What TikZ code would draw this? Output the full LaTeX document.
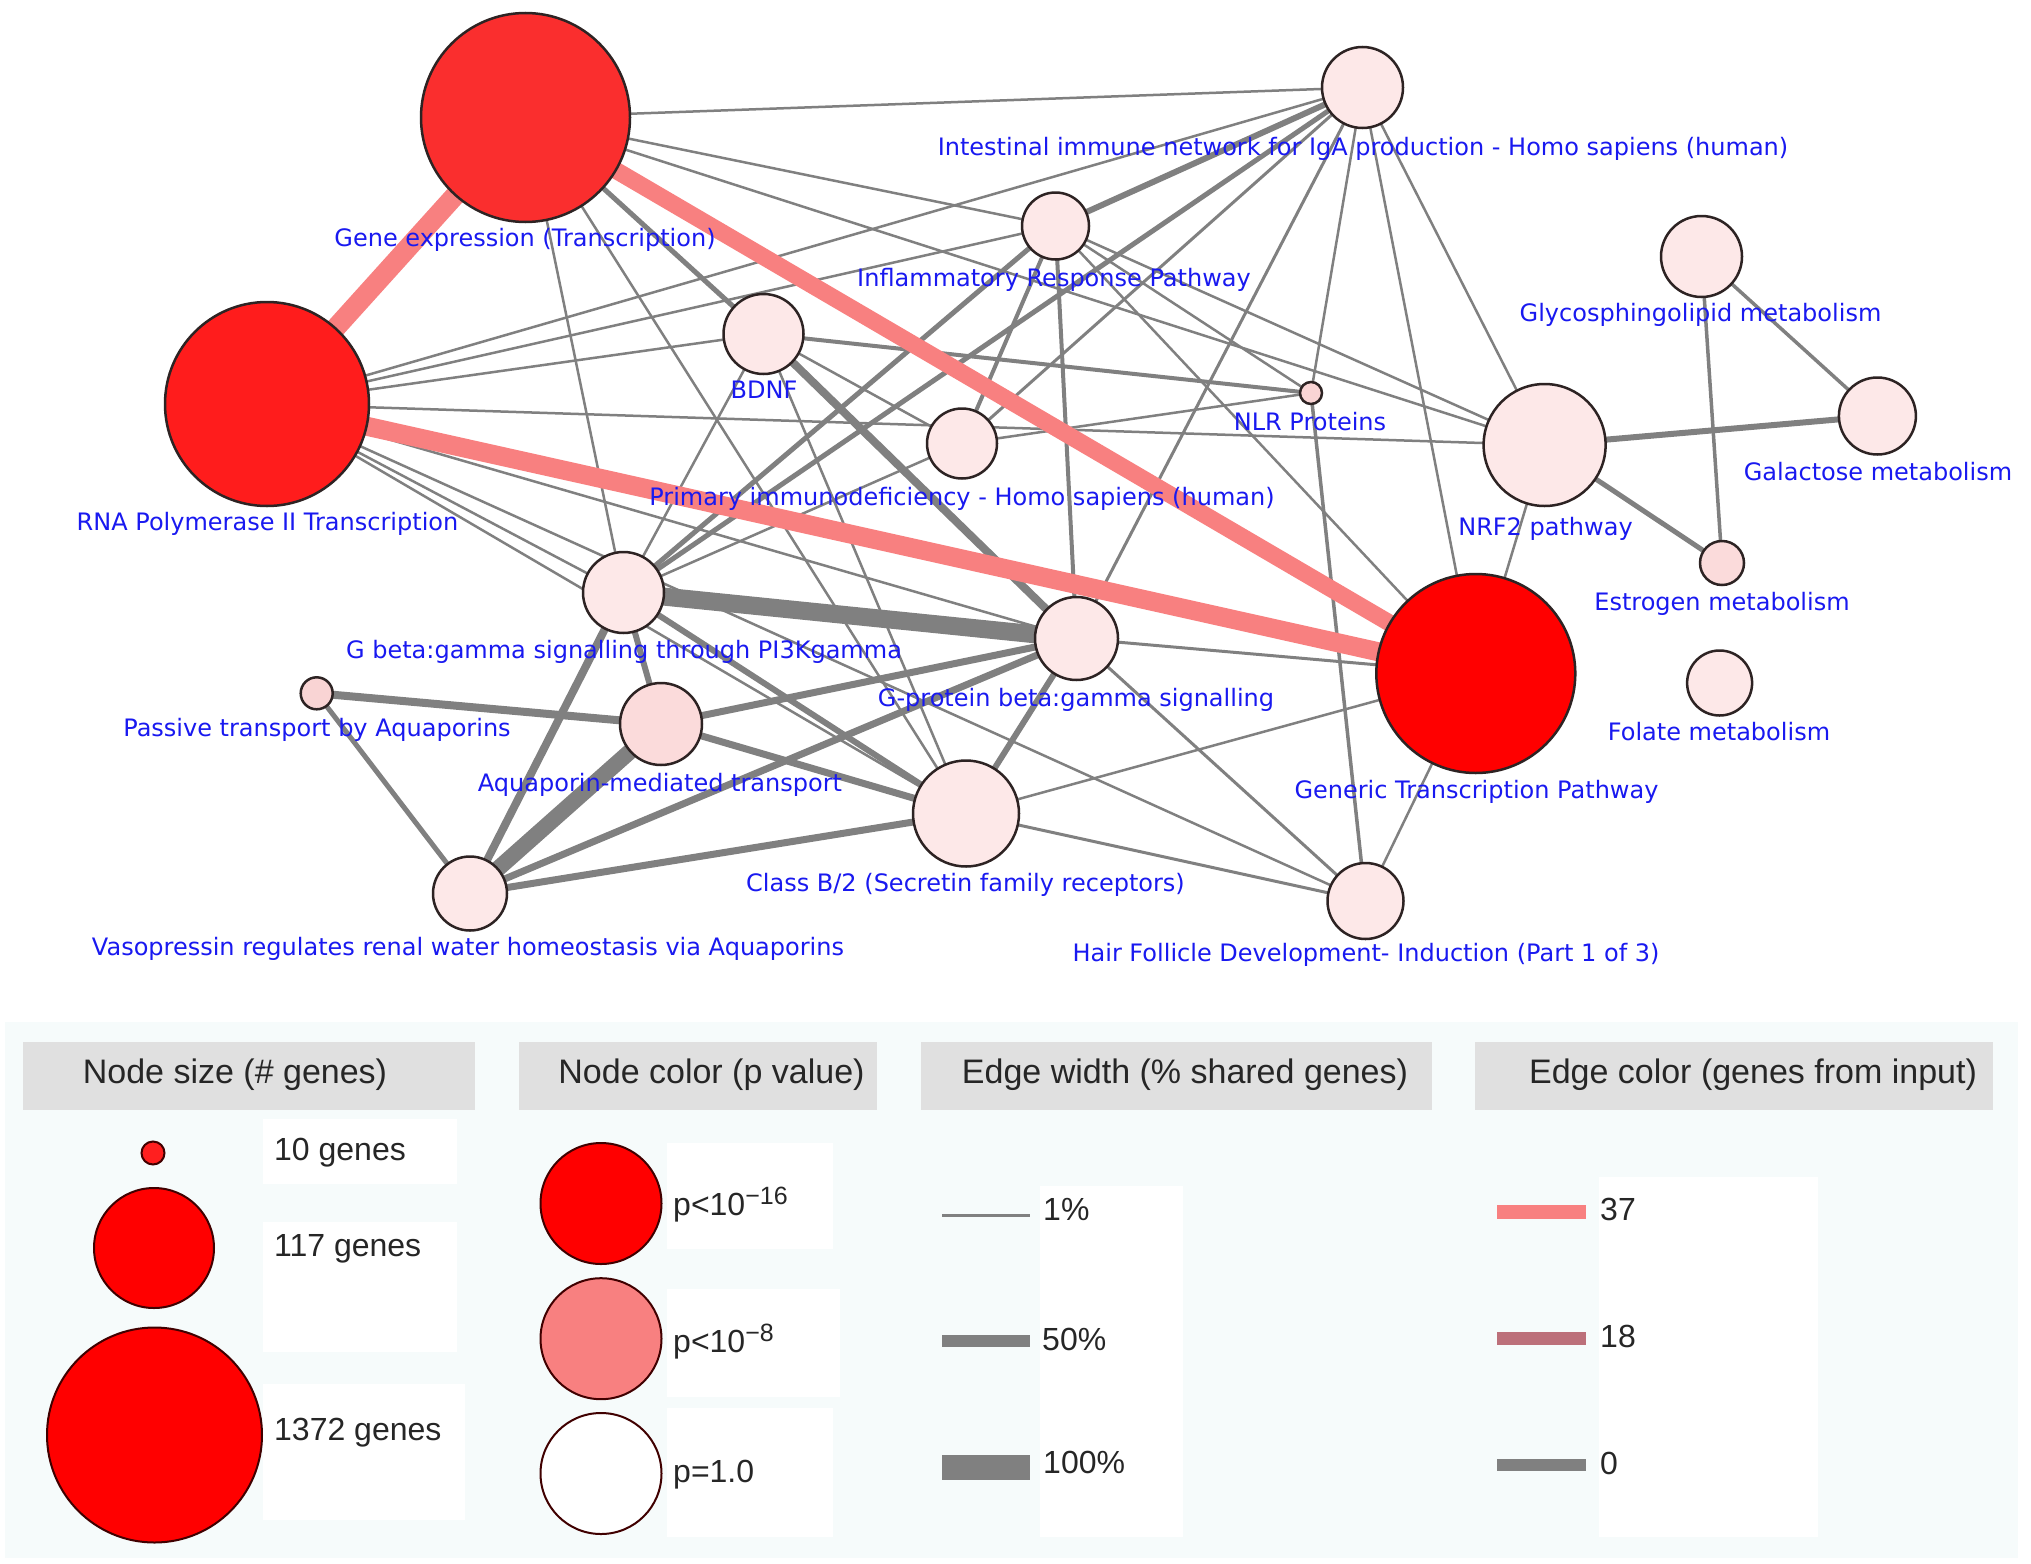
\documentclass[tikz,border=0pt]{standalone}
\usepackage{fontspec}
\setmainfont{Liberation Sans}
\newfontfamily\labfont{DejaVu Sans}
\usetikzlibrary{shapes.geometric}
\definecolor{edgegray}{RGB}{128,128,128}
\definecolor{salmon}{RGB}{248,128,128}
\definecolor{labblue}{RGB}{25,25,240}
\definecolor{pale}{RGB}{253,232,232}
\definecolor{paleb}{RGB}{251,219,219}
\definecolor{palec}{RGB}{249,212,212}
\definecolor{redA}{RGB}{250,46,46}
\definecolor{redB}{RGB}{255,28,28}
\definecolor{redC}{RGB}{255,0,0}
\definecolor{hdrgray}{RGB}{224,224,224}
\definecolor{panel}{RGB}{246,251,251}
\definecolor{rosy}{RGB}{188,112,122}
\definecolor{nodeline}{RGB}{45,35,35}
\pgfdeclarelayer{bg}
\pgfsetlayers{bg,main}
\newcommand{\supexp}[1]{\raisebox{11pt}{\fontsize{25}{30}\selectfont #1}}
\tikzset{
  pw/.style={circle, draw=nodeline, line width=2.5pt, inner sep=0pt, outer sep=0pt, fill=pale},
  lab/.style={text=labblue, font=\labfont\fontsize{24}{28}\selectfont, inner sep=0pt, anchor=mid, yshift=-6pt},
  ge/.style={draw=edgegray, line width=#1},
  ge/.default=2.5pt,
  se/.style={draw=salmon, line width=#1},
  hdr/.style={fill=hdrgray, inner sep=0pt, anchor=north west},
  hdrtext/.style={font=\fontsize{34}{40}\selectfont, text=black!85, inner sep=0pt, anchor=mid, yshift=-7pt},
  legtext/.style={font=\fontsize{32}{38}\selectfont, text=black!85, inner sep=0pt, anchor=mid west, yshift=-7pt},
  legcirc/.style={circle, draw=black!75!red, line width=2pt, inner sep=0pt},
}
\begin{document}
\begin{tikzpicture}[x=1pt,y=-1pt]
\useasboundingbox (0,0) rectangle (2031,1563);

% ---------- network nodes ----------
\node[pw, fill=redA, minimum size=209pt] (GE) at (525.5,117.5) {};
\node[pw, fill=redB, minimum size=204pt] (RNA) at (267,404) {};
\node[pw, fill=redC, minimum size=199pt] (GEN) at (1475.8,673.5) {};
\node[pw, minimum size=81pt] (INT) at (1362.5,87.5) {};
\node[pw, minimum size=67pt] (INF) at (1055.5,226) {};
\node[pw, minimum size=80pt] (BDNF) at (763.5,334) {};
\node[pw, fill=palec, minimum size=22pt] (NLR) at (1311,393) {};
\node[pw, minimum size=70pt] (PID) at (962,443.5) {};
\node[pw, minimum size=122pt] (NRF2) at (1544.6,445) {};
\node[pw, minimum size=81pt] (GLY) at (1701.5,256.5) {};
\node[pw, minimum size=77pt] (GAL) at (1877.4,416) {};
\node[pw, fill=paleb, minimum size=44pt] (EST) at (1722,563) {};
\node[pw, minimum size=65pt] (FOL) at (1719.6,683) {};
\node[pw, minimum size=81pt] (PI3K) at (623.5,592.5) {};
\node[pw, minimum size=83pt] (GPB) at (1076.5,638.5) {};
\node[pw, fill=palec, minimum size=32pt] (PAS) at (316.7,693.3) {};
\node[pw, fill=paleb, minimum size=82pt] (AQM) at (661,724) {};
\node[pw, minimum size=106pt] (CB2) at (966,813.5) {};
\node[pw, minimum size=74pt] (VAS) at (470,893.5) {};
\node[pw, minimum size=76pt] (HAIR) at (1365.5,901) {};

% ---------- background, panel and edges ----------
\begin{pgfonlayer}{bg}
\fill[white] (0,0) rectangle (2031,1563);
\fill[panel] (5,1022) rectangle (2018,1558);
\fill[white] (263,1119) rectangle (457,1184);
\fill[white] (263,1222) rectangle (457,1352);
\fill[white] (263,1384) rectangle (465,1520);
\fill[white] (667,1143) rectangle (833,1249);
\fill[white] (667,1289) rectangle (840,1397);
\fill[white] (667,1408) rectangle (833,1537);
\fill[white] (1040,1186) rectangle (1183,1537);
\fill[white] (1599,1177) rectangle (1818,1537);

\draw[ge] (GE) -- (INT);
\draw[ge] (GE) -- (INF);
\draw[ge] (GE) -- (NRF2);
\draw[ge] (GE) -- (PI3K);
\draw[ge] (GE) -- (CB2);
\draw[ge=5pt] (GE) -- (BDNF);
\draw[ge=8pt] (BDNF) -- (GPB);
\draw[ge] (RNA) -- (INT);
\draw[ge] (RNA) -- (INF);
\draw[ge] (RNA) -- (BDNF);
\draw[ge] (RNA) -- (NRF2);
\draw[ge] (RNA) -- (GPB);
\draw[ge] (RNA) -- (PI3K);
\draw[ge] (RNA) -- (CB2);
\draw[ge] (RNA) -- (HAIR);
\draw[ge=4pt] (BDNF) -- (NLR);
\draw[ge] (BDNF) -- (PID);
\draw[ge] (BDNF) -- (PI3K);
\draw[ge] (BDNF) -- (CB2);
\draw[ge=6pt] (INT) -- (INF);
\draw[ge=5pt] (INT) -- (PI3K);
\draw[ge=3pt] (INT) -- (PID);
\draw[ge] (INT) -- (NLR);
\draw[ge] (INT) -- (GEN);
\draw[ge] (INT) -- (NRF2);
\draw[ge=3pt] (INT) -- (GPB);
\draw[ge=4pt] (INF) -- (PID);
\draw[ge=5pt] (INF) -- (PI3K);
\draw[ge=4pt] (INF) -- (GPB);
\draw[ge] (INF) -- (NLR);
\draw[ge] (INF) -- (NRF2);
\draw[ge] (INF) -- (GEN);
\draw[ge] (PID) -- (NLR);
\draw[ge] (PID) -- (PI3K);
\draw[ge=3.5pt] (NLR) -- (HAIR);
\draw[ge] (NRF2) -- (GEN);
\draw[ge=6pt] (NRF2) -- (GAL);
\draw[ge=5pt] (NRF2) -- (EST);
\draw[ge=3.5pt] (GLY) -- (GAL);
\draw[ge=3.5pt] (GLY) -- (EST);
\draw[ge=18pt] (PI3K) -- (GPB);
\draw[ge=6pt] (PI3K) -- (AQM);
\draw[ge=8pt] (PI3K) -- (VAS);
\draw[ge=6pt] (PI3K) -- (CB2);
\draw[ge=8pt] (AQM) -- (PAS);
\draw[ge=16pt] (AQM) -- (VAS);
\draw[ge=7pt] (AQM) -- (GPB);
\draw[ge=7pt] (AQM) -- (CB2);
\draw[ge=5pt] (VAS) -- (PAS);
\draw[ge=7pt] (VAS) -- (GPB);
\draw[ge=7pt] (VAS) -- (CB2);
\draw[ge=6pt] (GPB) -- (CB2);
\draw[ge=3pt] (GPB) -- (GEN);
\draw[ge=3pt] (GPB) -- (HAIR);
\draw[ge] (CB2) -- (GEN);
\draw[ge=3pt] (CB2) -- (HAIR);
\draw[ge] (HAIR) -- (GEN);
\draw[se=20pt] (GE) -- (RNA);
\draw[se=17pt] (GE) -- (GEN);
\draw[se=19pt] (RNA) -- (GEN);
\end{pgfonlayer}

% ---------- node labels ----------
\node[lab] (GEl) at (525,238) {Gene expression (Transcription)};
\node[lab] (RNAl) at (267.5,522) {RNA Polymerase II Transcription};
\node[lab] (GENl) at (1476.5,790) {Generic Transcription Pathway};
\node[lab] (INTl) at (1363,147) {Intestinal immune network for IgA production - Homo sapiens (human)};
\node[lab] (INFl) at (1054,278) {Inflammatory Response Pathway};
\node[lab] (BDNFl) at (764,390) {BDNF};
\node[lab] (NLRl) at (1310,422) {NLR Proteins};
\node[lab] (PIDl) at (962,497) {Primary immunodeficiency - Homo sapiens (human)};
\node[lab] (NRF2l) at (1545.5,527) {NRF2 pathway};
\node[lab] (GLYl) at (1700.5,313) {Glycosphingolipid metabolism};
\node[lab] (GALl) at (1878,472) {Galactose metabolism};
\node[lab] (ESTl) at (1722,602) {Estrogen metabolism};
\node[lab] (FOLl) at (1719,732) {Folate metabolism};
\node[lab] (PI3Kl) at (624,650) {G beta:gamma signalling through PI3Kgamma};
\node[lab] (GPBl) at (1076,698) {G-protein beta:gamma signalling};
\node[lab] (PASl) at (317,728) {Passive transport by Aquaporins};
\node[lab] (AQMl) at (660,783) {Aquaporin-mediated transport};
\node[lab] (CB2l) at (965.5,883) {Class B/2 (Secretin family receptors)};
\node[lab] (VASl) at (468,947) {Vasopressin regulates renal water homeostasis via Aquaporins};
\node[lab] (HAIRl) at (1366,953) {Hair Follicle Development- Induction (Part 1 of 3)};

% ---------- legend ----------
\node[hdr, minimum width=452pt, minimum height=68pt] (h1) at (23,1042) {};
\node[hdr, minimum width=358pt, minimum height=68pt] (h2) at (519,1042) {};
\node[hdr, minimum width=511pt, minimum height=68pt] (h3) at (921,1042) {};
\node[hdr, minimum width=518pt, minimum height=68pt] (h4) at (1475,1042) {};
\node[hdrtext] (h1t) at (235,1074) {Node size (\# genes)};
\node[hdrtext] (h2t) at (711.5,1074) {Node color (p value)};
\node[hdrtext] (h3t) at (1185,1074) {Edge width (\% shared genes)};
\node[hdrtext] (h4t) at (1753,1074) {Edge color (genes from input)};

\node[legcirc, fill=red!88!white, minimum size=23pt] (s1) at (153,1153) {};
\node[legcirc, fill=redC, minimum size=120pt] (s2) at (154,1248) {};
\node[legcirc, fill=redC, minimum size=215pt] (s3) at (154.5,1435) {};
\node[legtext] (s1t) at (274,1151) {10 genes};
\node[legtext] (s2t) at (274,1247) {117 genes};
\node[legtext] (s3t) at (274,1431) {1372 genes};

\node[legcirc, fill=redC, minimum size=121pt] (c1) at (601,1203.5) {};
\node[legcirc, fill=salmon, minimum size=121pt] (c2) at (601,1338.7) {};
\node[legcirc, fill=white, minimum size=121pt] (c3) at (601,1473.5) {};
\node[legtext] (c1t) at (673,1206) {p<10\supexp{−16}};
\node[legtext] (c2t) at (673,1343) {p<10\supexp{−8}};
\node[legtext] (c3t) at (673,1473) {p=1.0};

\coordinate (w1a) at (942,1215.5); \coordinate (w1b) at (1030,1215.5);
\coordinate (w2a) at (942,1341); \coordinate (w2b) at (1030,1341);
\coordinate (w3a) at (942,1467.4); \coordinate (w3b) at (1030,1467.4);
\draw[ge=3pt] (w1a) -- (w1b);
\draw[ge=11.5pt] (w2a) -- (w2b);
\draw[ge=24.5pt] (w3a) -- (w3b);
\node[legtext] (w1t) at (1043,1211) {1\%};
\node[legtext] (w2t) at (1042,1341) {50\%};
\node[legtext] (w3t) at (1043,1464) {100\%};

\coordinate (e1a) at (1497,1212); \coordinate (e1b) at (1586,1212);
\coordinate (e2a) at (1497,1338.5); \coordinate (e2b) at (1586,1338.5);
\coordinate (e3a) at (1497,1465); \coordinate (e3b) at (1586,1465);
\draw[draw=salmon, line width=13.5pt] (e1a) -- (e1b);
\draw[draw=rosy, line width=12.5pt] (e2a) -- (e2b);
\draw[draw=edgegray, line width=12.5pt] (e3a) -- (e3b);
\node[legtext] (e1t) at (1600,1211) {37};
\node[legtext] (e2t) at (1600,1338) {18};
\node[legtext] (e3t) at (1600,1465) {0};
\end{tikzpicture}
\end{document}
